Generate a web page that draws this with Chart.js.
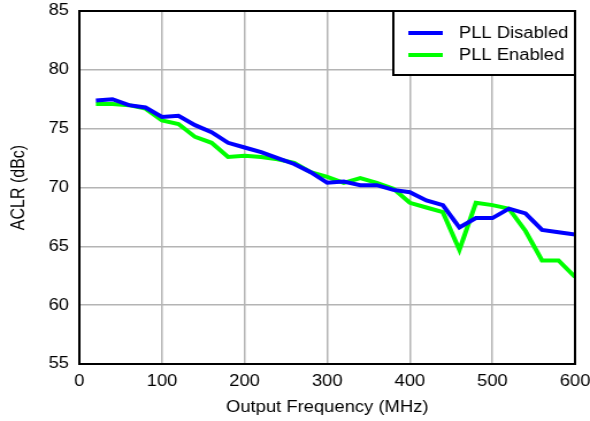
<!DOCTYPE html>
<html>
<head>
<meta charset="utf-8">
<script src="https://cdn.jsdelivr.net/npm/chart.js@4/dist/chart.umd.min.js"></script>
<style>
  html, body { margin: 0; padding: 0; background: #fff; }
  #wrap { width: 590px; height: 421px; overflow: hidden; }
  /* drawn on a narrower canvas, then widened to the page size */
  #aclrChart { display: block; width: 590px !important; height: 421px !important; }
</style>
</head>
<body>
<div id="wrap"><canvas id="aclrChart" width="513" height="421"></canvas></div>
<script>
// output frequency (MHz)
const freqs = [20, 40, 60, 80, 100, 120, 140, 160, 180, 200, 220, 240, 260, 280, 300,
  320, 340, 360, 380, 400, 420, 440, 460, 480, 500, 520, 540, 560, 580, 600];

// ACLR (dBc)
const pllDisabled = [77.4, 77.5, 77.0, 76.8, 76.0, 76.1, 75.3, 74.7, 73.8, 73.4, 73.0, 72.5, 72.0, 71.3, 70.4,
  70.5, 70.2, 70.2, 69.8, 69.6, 68.9, 68.5, 66.6, 67.4, 67.4, 68.2, 67.8, 66.4, 66.2, 66.0];
const pllEnabled = [77.1, 77.1, 77.0, 76.7, 75.7, 75.4, 74.3, 73.8, 72.6, 72.7, 72.6, 72.4, 72.1, 71.3, 70.9,
  70.4, 70.8, 70.4, 69.9, 68.7, 68.3, 67.9, 64.7, 68.7, 68.5, 68.2, 66.3, 63.8, 63.8, 62.4];

const xTicks = [0, 100, 200, 300, 400, 500, 600];
const yTicks = [55, 60, 65, 70, 75, 80, 85];

const font = "'Liberation Sans', Arial, sans-serif";

function points(vals) {
  return freqs.map((f, i) => ({ x: f, y: vals[i] }));
}

// black frame round the plot plus the boxed legend in the top right corner
const framePlugin = {
  id: "frame",
  afterDraw(chart) {
    const { ctx, chartArea: a } = chart;
    ctx.save();
    ctx.strokeStyle = "#000";
    ctx.lineWidth = 2;
    ctx.strokeRect(a.left, a.top, a.right - a.left, a.bottom - a.top);

    const bx = 342, by = a.top, bw = a.right - bx, bh = 64;
    ctx.fillStyle = "#fff";
    ctx.fillRect(bx, by, bw, bh);
    ctx.strokeRect(bx, by, bw, bh);

    ctx.font = "16px " + font;
    ctx.textBaseline = "middle";
    chart.data.datasets.forEach((ds, i) => {
      const y = a.top + 22 + i * 22;
      ctx.strokeStyle = ds.borderColor;
      ctx.lineWidth = 4;
      ctx.beginPath();
      ctx.moveTo(355, y);
      ctx.lineTo(385, y);
      ctx.stroke();
      ctx.fillStyle = "#000";
      ctx.fillText(ds.label, 399, y + 1);
    });
    ctx.restore();
  }
};

new Chart(document.getElementById("aclrChart"), {
  type: "line",
  data: {
    datasets: [
      {
        label: "PLL Disabled",
        data: points(pllDisabled),
        borderColor: "#0000ff",
        borderWidth: 4,
        pointRadius: 0,
        tension: 0
      },
      {
        label: "PLL Enabled",
        data: points(pllEnabled),
        borderColor: "#00ff00",
        borderWidth: 4,
        pointRadius: 0,
        tension: 0
      }
    ]
  },
  options: {
    responsive: false,
    animation: false,
    layout: { padding: { top: 11, right: 13, left: 7, bottom: 0 } },
    plugins: {
      legend: { display: false },
      tooltip: { enabled: false }
    },
    scales: {
      x: {
        type: "linear",
        min: 0,
        max: 600,
        afterBuildTicks: s => { s.ticks = xTicks.map(v => ({ value: v })); },
        afterFit: s => { s.height = 57; s.paddingLeft = 0; s.paddingRight = 0; },
        grid: { color: "#b4b4b4", lineWidth: 1.5, drawTicks: false },
        border: { color: "#000", width: 2 },
        ticks: { color: "#000", font: { family: font, size: 16 }, padding: 8, maxRotation: 0 },
        title: {
          display: true,
          text: "Output Frequency (MHz)",
          color: "#000",
          font: { family: font, size: 16 },
          padding: { top: 4, bottom: 4 }
        }
      },
      y: {
        min: 55,
        max: 85,
        afterBuildTicks: s => { s.ticks = yTicks.map(v => ({ value: v })); },
        afterFit: s => { s.width = 62; s.paddingTop = 0; s.paddingBottom = 0; },
        grid: { color: "#b4b4b4", lineWidth: 1.5, drawTicks: false },
        border: { color: "#000", width: 2 },
        ticks: { color: "#000", font: { family: font, size: 16 }, padding: 9 },
        title: {
          display: true,
          text: "ACLR (dBc)",
          color: "#000",
          font: { family: font, size: 16 },
          padding: { top: 0, bottom: 0 }
        }
      }
    }
  },
  plugins: [framePlugin]
});
</script>
</body>
</html>
